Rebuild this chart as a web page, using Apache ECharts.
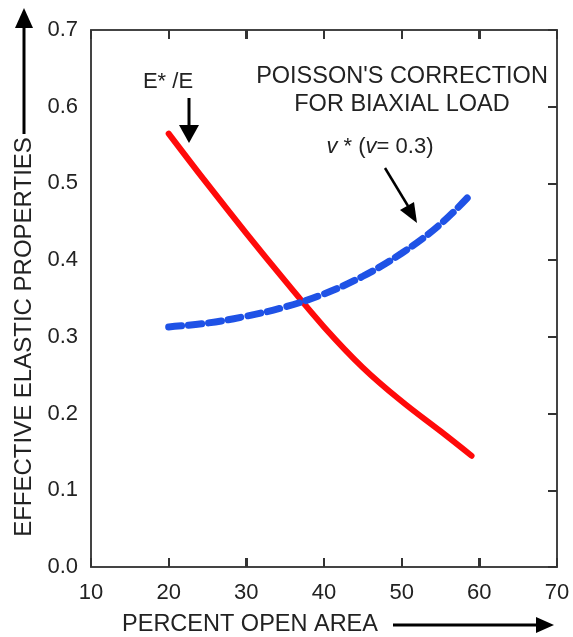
<!DOCTYPE html>
<html>
<head>
<meta charset="utf-8">
<script src="https://cdn.jsdelivr.net/npm/echarts@6/dist/echarts.min.js"></script>
<style>
  html, body { margin: 0; padding: 0; background: #fff; }
  #chart { width: 573px; height: 637px; }
</style>
</head>
<body>
<div id="chart"></div>
<script>
// percent open area
var openArea = [20, 25, 30, 35, 40, 45, 50, 55, 59];
// E*/E
var modulusRatio = [0.565, 0.499, 0.435, 0.373, 0.313, 0.260, 0.216, 0.177, 0.145];
// v* (v = 0.3)
var poissonRatio = [0.313, 0.318, 0.327, 0.339, 0.356, 0.379, 0.409, 0.447, 0.487];

var xTicks = [10, 20, 30, 40, 50, 60, 70];
var yTicks = ['0.0', '0.1', '0.2', '0.3', '0.4', '0.5', '0.6', '0.7'];

var font = 'Liberation Sans, Arial, sans-serif';
var ink = '#222';
var frame = '#444';

// plot box
var G = { left: 91, right: 16, top: 30, bottom: 70 };
var W = 573, H = 637;

function pairs(xs, ys) {
    return xs.map(function (x, i) { return [x, ys[i]]; });
}

function ticks() {
    return { show: true, inside: true, length: 9, lineStyle: { color: '#333', width: 2 } };
}

// inward ticks on top and bottom edges
var xMin = xTicks[0], xMax = xTicks[xTicks.length - 1];
var tickMarks = [];
xTicks.slice(1, -1).forEach(function (v) {
    var px = Math.round(G.left + (v - xMin) / (xMax - xMin) * (W - G.left - G.right));
    var yb = H - G.bottom, yt = G.top;
    tickMarks.push({ type: 'rect', z: 100, shape: { x: px - 1, y: yb - 9, width: 2, height: 9 }, style: { fill: '#333' } });
    tickMarks.push({ type: 'rect', z: 100, shape: { x: px - 1, y: yt, width: 2, height: 9 }, style: { fill: '#333' } });
});

var myChart = echarts.init(document.getElementById('chart'));

myChart.setOption({
    animation: false,
    grid: G,
    xAxis: [
        {
            type: 'value', min: xMin, max: xMax, interval: 10,
            position: 'bottom',
            splitLine: { show: false },
            axisLine: { show: true, onZero: false, lineStyle: { color: frame, width: 2 } },
            axisTick: ticks(),
            axisLabel: { fontFamily: font, fontSize: 22, color: ink, margin: 15 }
        },
        {
            type: 'value', min: xMin, max: xMax, interval: 10,
            position: 'top',
            splitLine: { show: false },
            axisLine: { show: true, onZero: false, lineStyle: { color: frame, width: 2 } },
            axisTick: ticks(),
            axisLabel: { show: false }
        }
    ],
    yAxis: [
        {
            type: 'value', min: 0, max: 0.7, interval: 0.1,
            position: 'left',
            splitLine: { show: false },
            axisLine: { show: true, onZero: false, lineStyle: { color: frame, width: 2 } },
            axisTick: { show: false },
            axisLabel: {
                fontFamily: font, fontSize: 22, color: ink, margin: 13,
                padding: [0, 0, 10, 0],
                formatter: function (v) { return yTicks[Math.round(v * 10)]; }
            }
        },
        {
            type: 'value', min: 0, max: 0.7, interval: 0.1,
            position: 'right',
            splitLine: { show: false },
            axisLine: { show: true, onZero: false, lineStyle: { color: frame, width: 2 } },
            axisTick: ticks(),
            axisLabel: { show: false }
        }
    ],
    series: [
        {
            name: 'E*/E',
            type: 'line',
            smooth: 0.4,
            showSymbol: false,
            data: pairs(openArea, modulusRatio),
            lineStyle: { color: '#ff0a0a', width: 6, cap: 'round' }
        },
        {
            name: 'v*',
            type: 'line',
            smooth: 0.4,
            showSymbol: false,
            data: pairs(openArea, poissonRatio),
            lineStyle: { color: '#1f52e6', width: 7, type: [13, 7], cap: 'round' }
        }
    ],
    graphic: [
        // y axis title + arrow
        {
            type: 'text', x: 24, y: 337, rotation: Math.PI / 2,
            style: { text: 'EFFECTIVE ELASTIC PROPERTIES', font: '24px ' + font, fill: ink, align: 'center', verticalAlign: 'middle' }
        },
        { type: 'line', shape: { x1: 24, y1: 134, x2: 24, y2: 24 }, style: { stroke: '#000', lineWidth: 3 } },
        { type: 'polygon', shape: { points: [[15, 28], [33, 28], [24, 8]] }, style: { fill: '#000' } },
        // x axis title + arrow
        {
            type: 'text', x: 250, y: 625,
            style: { text: 'PERCENT OPEN AREA', font: '23.5px ' + font, fill: ink, align: 'center', verticalAlign: 'middle' }
        },
        { type: 'line', shape: { x1: 393, y1: 625, x2: 540, y2: 625 }, style: { stroke: '#000', lineWidth: 3 } },
        { type: 'polygon', shape: { points: [[536, 617], [536, 633], [554, 625]] }, style: { fill: '#000' } },
        // E*/E label
        {
            type: 'text', x: 168, y: 82,
            style: { text: 'E* /E', font: '22px ' + font, fill: ink, align: 'center', verticalAlign: 'middle' }
        },
        { type: 'line', shape: { x1: 189, y1: 98, x2: 189, y2: 128 }, style: { stroke: '#000', lineWidth: 3 } },
        { type: 'polygon', shape: { points: [[179, 125], [199, 125], [189, 143]] }, style: { fill: '#000' } },
        // Poisson label
        {
            type: 'text', x: 402, y: 77,
            style: { text: "POISSON'S CORRECTION", font: '23.5px ' + font, fill: ink, align: 'center', verticalAlign: 'middle' }
        },
        {
            type: 'text', x: 402, y: 105,
            style: { text: 'FOR BIAXIAL LOAD', font: '23.5px ' + font, fill: ink, align: 'center', verticalAlign: 'middle' }
        },
        {
            type: 'text', x: 380, y: 147,
            style: {
                text: '{i|v}{n| * (}{i|v}{n|= 0.3)}',
                align: 'center', verticalAlign: 'middle',
                rich: {
                    i: { font: 'italic 22px ' + font, fill: ink },
                    n: { font: '22px ' + font, fill: ink }
                }
            }
        },
        { type: 'line', shape: { x1: 385, y1: 168, x2: 408, y2: 206 }, style: { stroke: '#000', lineWidth: 2.5 } },
        { type: 'polygon', shape: { points: [[400, 210], [414, 202], [417, 223]] }, style: { fill: '#000' } }
    ].concat(tickMarks)
});
</script>
</body>
</html>
